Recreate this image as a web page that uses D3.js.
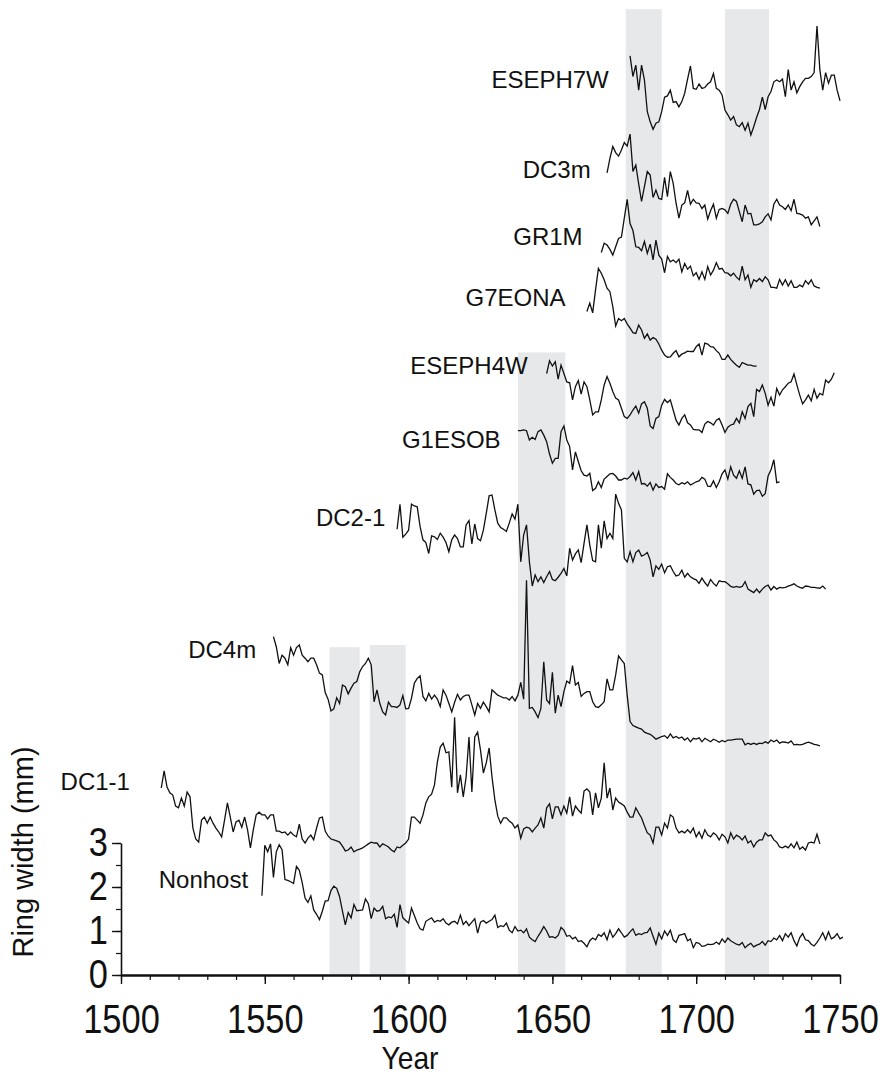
<!DOCTYPE html>
<html>
<head>
<meta charset="utf-8">
<script src="https://cdn.jsdelivr.net/npm/d3@7"></script>
<style>
  body { margin: 0; background: #fff; }
  text { font-family: "Liberation Sans", Arial, sans-serif; fill: #111; }
</style>
</head>
<body>
<div id="chart"></div>
<script>
// ring-width series, one value per year starting at firstYears[i] (mm)
const seriesNames = ["Nonhost", "DC1-1", "DC4m", "DC2-1", "G1ESOB", "ESEPH4W", "G7EONA", "GR1M", "DC3m", "ESEPH7W"];
const firstYears = [1549, 1514, 1553, 1596, 1638, 1648, 1662, 1667, 1669, 1677];

const nonhost = [1.8, 2.95, 2.8, 2.98, 2.22, 2.8, 2.96, 2.85, 2.17, 2.15, 2.12, 2.08, 2.47, 2.38, 2.1, 1.75, 1.65, 1.8, 1.48, 1.38,
  1.26, 1.45, 1.68, 1.69, 1.92, 2.02, 1.97, 1.78, 1.45, 1.14, 1.42, 1.3, 1.6, 1.46, 1.47, 1.48, 1.73, 1.62, 1.28, 1.52,
  1.45, 1.47, 1.56, 1.28, 1.32, 1.3, 1.38, 1.08, 1.6, 1.3, 1.24, 1.18, 1.52, 1.35, 1.18, 1.05, 1.02, 1.22, 1.26, 1.3,
  1.2, 1.24, 1.22, 1.28, 1.18, 1.14, 1.2, 1.22, 1.16, 1.36, 1.15, 1.22, 1.12, 1.2, 1.28, 0.95, 1.2, 1.24, 1.18, 1.22,
  1.26, 1.36, 1.08, 1.12, 1.1, 1.18, 1.02, 0.96, 1.1, 1.0, 1.02, 0.96, 1.05, 0.86, 0.8, 0.76, 0.88, 0.98, 1.1, 1.0,
  0.86, 0.87, 0.84, 0.9, 1.08, 1.02, 0.88, 0.9, 0.82, 0.86, 0.76, 0.78, 0.72, 0.64, 0.78, 0.84, 0.8, 0.92, 0.88, 0.96,
  0.8, 1.02, 0.86, 0.94, 1.05, 0.96, 0.86, 0.9, 0.98, 1.05, 0.9, 0.94, 0.92, 0.96, 0.97, 1.07, 0.88, 0.7, 0.95, 0.82,
  1.0, 0.9, 1.02, 0.8, 0.74, 0.9, 0.92, 0.94, 0.78, 0.82, 0.62, 0.74, 0.72, 0.65, 0.66, 0.7, 0.69, 0.7, 0.75, 0.7,
  0.82, 0.74, 0.84, 0.78, 0.74, 0.7, 0.68, 0.74, 0.62, 0.68, 0.72, 0.64, 0.68, 0.7, 0.76, 0.68, 0.78, 0.76, 0.84, 0.8,
  0.9, 0.78, 0.94, 0.86, 0.96, 0.78, 0.66, 0.85, 0.94, 0.8, 0.78, 0.7, 0.66, 0.74, 0.84, 0.96, 0.8, 0.98, 0.82, 0.86,
  0.94, 0.82, 0.86];

const dc1_1 = [1.75, 2.14, 1.77, 1.64, 1.59, 1.34, 1.3, 1.52, 1.34, 1.66, 1.55, 0.84, 0.59, 0.52, 1.02, 1.09, 0.95, 1.09, 0.95, 0.84,
  0.75, 0.64, 1.02, 1.41, 1.09, 0.75, 0.98, 1.02, 0.86, 1.09, 0.8, 0.39, 0.8, 1.14, 1.2, 1.14, 1.14, 1.05, 1.14, 1.14,
  0.77, 0.77, 0.73, 0.75, 0.68, 0.75, 0.68, 0.64, 0.93, 0.59, 0.5, 0.61, 0.68, 0.57, 0.84, 1.07, 1.09, 0.77, 0.66, 0.59,
  0.57, 0.55, 0.52, 0.43, 0.32, 0.34, 0.41, 0.3, 0.34, 0.36, 0.39, 0.43, 0.48, 0.52, 0.5, 0.5, 0.41, 0.48, 0.45, 0.41,
  0.34, 0.3, 0.41, 0.39, 0.45, 0.5, 0.59,
  1.09, 1.09, 1.02, 0.95, 1.14, 1.41, 1.55, 1.61, 1.82, 2.34, 2.68, 2.77, 2.55, 2.57, 1.77, 3.36, 1.64, 2.05, 1.55, 2.0,
  2.91, 1.66, 2.91, 3.02, 2.61, 2.09, 2.32, 2.66, 2.0, 1.48, 1.11, 0.95, 1.07, 1.07, 1.0, 0.95, 0.84, 0.91, 0.61, 0.82,
  0.86, 0.84, 0.75, 0.84, 0.91, 1.07, 0.84, 1.3, 1.39, 1.05, 1.32, 1.32, 1.14, 1.34, 1.18, 1.55, 1.11, 1.34, 1.25, 1.18,
  1.68, 1.73, 1.66, 1.14, 1.64, 1.3, 1.52, 2.32, 1.52, 1.75, 1.25, 1.52, 1.43,
  1.39, 1.34, 1.2, 1.09, 1.09, 1.3, 1.18, 1.07, 0.89, 0.73, 0.68, 0.5, 0.86, 0.86, 0.68, 0.95, 0.84, 1.14, 1.09, 0.84,
  0.73, 0.77, 0.73, 0.8, 0.73, 0.84, 0.64, 0.75, 0.61, 0.8, 0.68, 0.64, 0.73, 0.68, 0.57, 0.7, 0.64, 0.5, 0.73, 0.59,
  0.68, 0.64, 0.57, 0.66, 0.5, 0.55, 0.41, 0.52, 0.57, 0.57, 0.73, 0.66, 0.68, 0.57, 0.52, 0.41, 0.39, 0.43, 0.39, 0.48,
  0.39, 0.52, 0.36, 0.41, 0.34, 0.5, 0.52, 0.5, 0.7, 0.48];

const dc4m = [2.69, 2.46, 2.08, 2.27, 2.2, 2.05, 2.44, 2.27, 2.44, 2.5, 2.27, 2.2, 2.12, 2.2, 2.2, 2.05, 1.86, 1.82, 1.42, 1.27,
  1.0, 1.05, 1.3, 1.17, 1.59, 1.55, 1.39, 1.52, 1.63, 1.67, 1.89, 2.01, 2.08, 2.2, 2.05, 1.21, 1.48, 1.17, 0.98, 0.91,
  1.2, 1.1, 1.1, 1.08, 1.14, 1.35, 1.05, 1.06, 1.29, 1.63, 1.74, 1.8, 1.33, 1.23, 1.4, 1.27, 1.36, 1.27, 1.1, 1.48,
  1.36, 1.17, 0.98, 1.2, 1.38, 1.25, 1.33, 1.36, 1.36, 1.14, 0.91, 1.17, 1.06, 1.2, 1.1, 0.98, 1.48, 1.42, 1.36, 1.33,
  1.3, 1.3, 1.25, 1.33, 1.23, 1.36, 1.65, 1.27, 3.97, 1.06, 1.08, 0.98, 0.85, 1.06, 2.12, 1.25, 1.17, 1.88, 0.95, 1.36,
  1.1, 1.44, 1.68, 1.63, 2.03, 1.59, 1.65, 1.33, 1.4, 1.44, 1.44, 1.21, 1.1, 1.08, 1.14, 1.21, 1.73, 1.48, 1.48, 1.82,
  2.25, 2.16, 2.08, 1.36, 0.76, 0.67, 0.64, 0.61, 0.59, 0.52, 0.49, 0.47, 0.42, 0.36, 0.39, 0.42, 0.44, 0.38, 0.48, 0.39,
  0.42, 0.38, 0.41, 0.34, 0.39, 0.3, 0.38, 0.36, 0.39, 0.3, 0.38, 0.34, 0.3, 0.36, 0.33, 0.29, 0.33, 0.3, 0.34, 0.34,
  0.35, 0.36, 0.36, 0.36, 0.23, 0.27, 0.24, 0.27, 0.24, 0.27, 0.26, 0.3, 0.27, 0.34, 0.3, 0.34, 0.27, 0.3, 0.29, 0.27,
  0.32, 0.23, 0.24, 0.23, 0.24, 0.27, 0.29, 0.27, 0.24, 0.23, 0.21];

const dc2_1 = [2.13, 2.7, 1.95, 2.02, 2.11, 2.7, 2.66, 2.64, 2.19, 1.89, 1.83, 1.58, 1.98, 1.96, 1.9, 2.04, 1.95, 1.83, 1.62, 1.89,
  2.0, 1.92, 1.73, 1.73, 2.23, 2.33, 1.8, 2.25, 1.92, 1.87, 2.11, 2.49, 2.89, 2.91, 2.57, 2.27, 2.17, 2.13, 2.08, 2.27,
  2.48, 2.36, 2.7, 1.39, 2.0, 2.23, 1.39, 0.84, 1.09, 0.94, 1.05, 0.92, 1.05, 1.17, 0.99, 0.96, 1.04, 1.13, 1.24, 1.07,
  1.7, 1.43, 1.57, 1.66, 1.37, 1.81, 2.23, 1.77, 1.42, 1.39, 2.23, 1.7, 2.32, 1.92, 2.04, 1.92, 2.93, 2.72, 2.57, 1.47,
  1.39, 1.62, 1.39, 1.6, 1.66, 1.52, 1.55, 1.6, 1.43, 1.05, 1.3, 1.22, 1.34, 1.14, 1.28, 1.3, 1.17, 1.07, 1.09, 1.2,
  1.04, 1.13, 1.05, 1.01, 0.98, 0.9, 1.02, 0.92, 0.84, 0.99, 0.9, 0.84, 0.96, 0.94, 0.94, 0.89, 0.83, 0.81, 0.83, 0.81,
  0.83, 0.94, 0.77, 0.73, 0.69, 0.77, 0.69, 0.77, 0.83, 0.86, 0.75, 0.83, 0.77, 0.81, 0.8, 0.81, 0.84, 0.86, 0.89, 0.84,
  0.81, 0.79, 0.84, 0.83, 0.81, 0.81, 0.8, 0.79, 0.84, 0.77];

const g1esob = [1.87, 1.87, 1.89, 1.87, 1.66, 1.72, 1.67, 1.85, 1.89, 1.77, 1.62, 1.34, 1.13, 1.24, 1.24, 1.85, 1.98, 1.66, 1.51, 0.98,
  1.39, 1.17, 0.96, 0.86, 0.84, 0.9, 0.51, 0.56, 0.71, 0.58, 0.77, 0.83, 0.89, 0.9, 0.84, 0.75, 0.75, 0.79, 0.77, 0.83,
  0.92, 0.75, 0.94, 0.66, 0.67, 0.61, 0.69, 0.52, 0.66, 0.58, 0.6, 0.54, 0.89, 0.81, 0.75, 0.67, 0.64, 0.69, 0.66, 0.71,
  0.64, 0.67, 0.71, 0.73, 0.81, 0.77, 0.61, 0.6, 0.73, 0.58, 0.71, 0.89, 0.98, 0.77, 1.05, 0.86, 0.79, 0.96, 0.79, 1.05,
  0.66, 0.64, 0.43, 0.51, 0.52, 0.38, 0.44, 0.84, 0.98, 1.21, 0.69, 0.71];

const eseph4w = [1.67, 1.96, 1.84, 1.94, 1.54, 1.86, 1.67, 1.48, 1.46, 1.07, 1.37, 1.51, 1.2, 1.48, 1.37, 1.07, 0.73, 0.8, 0.8, 1.07,
  1.41, 1.6, 1.45, 1.26, 1.11, 1.07, 0.88, 0.69, 0.65, 0.73, 0.84, 0.93, 0.77, 0.98, 1.03, 0.88, 0.48, 0.42, 0.65, 0.69,
  0.95, 1.08, 1.01, 1.07, 0.84, 0.61, 0.5, 0.65, 0.73, 0.55, 0.5, 0.4, 0.39, 0.39, 0.33, 0.52, 0.58, 0.55, 0.5, 0.61,
  0.65, 0.5, 0.33, 0.45, 0.5, 0.52, 0.65, 0.55, 0.8, 0.65, 0.92, 0.99, 0.69, 1.31, 1.26, 1.41, 1.22, 0.95, 1.13, 0.93,
  1.33, 1.18, 1.3, 1.37, 1.45, 1.48, 1.66, 1.41, 1.18, 0.98, 1.07, 1.18, 1.05, 1.31, 1.11, 1.22, 1.18, 1.52, 1.46, 1.54,
  1.69];

const g7eona = [1.58, 1.77, 1.55, 2.07, 2.56, 2.45, 2.3, 2.11, 2.03, 1.69, 1.25, 1.42, 1.37, 1.42, 1.3, 1.2, 1.1, 1.08, 1.27, 1.16,
  0.97, 1.07, 0.93, 0.99, 0.95, 0.84, 0.7, 0.59, 0.54, 0.55, 0.63, 0.69, 0.55, 0.61, 0.64, 0.68, 0.67, 0.67, 0.78, 0.84,
  0.59, 0.86, 0.84, 0.78, 0.77, 0.69, 0.63, 0.49, 0.49, 0.59, 0.49, 0.42, 0.36, 0.31, 0.42, 0.39, 0.36, 0.36, 0.34, 0.34];

const gr1m = [2.42, 2.63, 2.59, 2.49, 2.36, 2.55, 2.74, 2.77, 3.2, 3.63, 3.08, 2.92, 2.55, 2.54, 2.46, 2.67, 2.4, 2.61, 2.25, 2.7,
  2.36, 2.27, 1.96, 2.33, 2.21, 2.25, 2.19, 2.27, 1.98, 2.17, 2.04, 2.11, 1.89, 1.96, 1.81, 1.98, 1.81, 2.1, 1.91, 2.02,
  2.19, 2.04, 2.06, 1.96, 1.95, 1.89, 1.95, 1.86, 1.8, 2.11, 1.8, 1.91, 1.63, 1.8, 1.76, 1.83, 1.76, 1.87, 1.8, 1.63,
  1.63, 1.61, 1.81, 1.68, 1.8, 1.66, 1.78, 1.63, 1.63, 1.68, 1.64, 1.78, 1.7, 1.8, 1.66, 1.63, 1.61];

const dc3m = [2.23, 2.56, 2.83, 2.69, 2.61, 2.75, 2.92, 2.84, 3.11, 2.26, 2.41, 1.98, 1.58, 1.92, 2.26, 2.18, 1.67, 1.84, 1.65, 1.63,
  2.13, 1.69, 2.26, 1.99, 1.54, 1.2, 1.5, 1.55, 1.83, 1.52, 1.63, 1.55, 1.54, 1.42, 1.5, 1.18, 1.37, 1.52, 1.2, 1.4,
  1.42, 1.39, 1.31, 1.52, 1.63, 1.58, 1.35, 1.12, 1.5, 1.3, 1.31, 1.05, 1.05, 1.07, 1.12, 1.23, 1.3, 1.16, 1.52, 1.63,
  1.5, 1.46, 1.4, 1.5, 1.37, 1.63, 1.31, 1.3, 1.27, 1.2, 1.23, 1.05, 1.14, 1.23, 1.01];

const eseph7w = [1.89, 1.42, 1.68, 1.11, 1.68, 1.34, 0.62, 0.39, 0.22, 0.36, 0.39, 0.62, 0.95, 0.98, 1.11, 0.83, 0.85, 0.73, 0.85, 1.04,
  1.36, 1.66, 1.15, 1.13, 1.25, 1.15, 1.17, 1.25, 1.3, 1.49, 1.15, 1.11, 1.0, 0.66, 0.55, 0.43, 0.51, 0.32, 0.28, 0.37,
  0.2, 0.36, 0.09, 0.28, 0.49, 0.67, 0.95, 0.67, 0.96, 1.08, 1.3, 1.34, 1.3, 1.36, 0.96, 1.58, 1.11, 1.3, 1.05, 1.19,
  1.3, 1.38, 1.38, 1.42, 1.51, 2.57, 1.57, 1.11, 1.51, 1.27, 1.45, 1.45, 1.11, 0.87];

const seriesValues = [nonhost, dc1_1, dc4m, dc2_1, g1esob, eseph4w, g7eona, gr1m, dc3m, eseph7w];

// shaded periods (years)
const bandStarts = [1572.5, 1586.5, 1638, 1675.5, 1710];
const bandEnds = [1583, 1599, 1654.5, 1688, 1725.3];

const xTicks = [1500, 1550, 1600, 1650, 1700, 1750];
const yTicks = [0, 1, 2, 3];

// layout: vertical stacking offsets (mm), band tops (mm), label anchors (year, mm)
const offsets = [0, 2.5, 5, 8, 10.5, 12, 13.5, 14, 16, 19];
const bandTops = [7.45, 7.5, 14.15, 21.95, 21.95];
const labelYears = [1544.2, 1503.1, 1547, 1591.9, 1632, 1641.4, 1654.6, 1660.5, 1663.3, 1669.6];
const labelLevels = [1.98, 4.2, 7.2, 10.2, 11.98, 13.66, 15.2, 16.59, 18.11, 20.16];

const width = 883;
const height = 1080;

const x = d3.scaleLinear().domain([1500, 1750]).range([121, 840]);
const y = d3.scaleLinear().domain([0, 3]).range([975, 843]);

const svg = d3.select("#chart")
  .append("svg")
  .attr("width", width)
  .attr("height", height);

// grey bands
svg.append("g")
  .selectAll("rect")
  .data(bandStarts)
  .enter()
  .append("rect")
  .attr("x", (d) => x(d))
  .attr("width", (d, i) => x(bandEnds[i]) - x(d))
  .attr("y", (d, i) => y(bandTops[i]))
  .attr("height", (d, i) => y(0) - y(bandTops[i]))
  .attr("fill", "#e7e8ea");

const line = d3.line()
  .x((d) => x(d.year))
  .y((d) => y(d.value));

const series = seriesValues.map((vals, i) =>
  vals.map((v, j) => ({ year: firstYears[i] + j, value: v + offsets[i] }))
);

svg.append("g")
  .selectAll("path")
  .data(series)
  .enter()
  .append("path")
  .attr("d", line)
  .attr("fill", "none")
  .attr("stroke", "#111")
  .attr("stroke-width", 1.3)
  .attr("stroke-linejoin", "miter");

svg.append("g")
  .selectAll("text")
  .data(seriesNames)
  .enter()
  .append("text")
  .attr("x", (d, i) => x(labelYears[i]))
  .attr("y", (d, i) => y(labelLevels[i]))
  .attr("text-anchor", "end")
  .attr("font-size", 24)
  .text((d) => d);

// x axis: minor ticks every 10 years, major every 50
const xMinor = svg.append("g")
  .attr("transform", `translate(0,${y(0)})`)
  .call(d3.axisBottom(x).tickValues(d3.range(1500, 1751, 10)).tickSize(5).tickFormat(""));
xMinor.select(".domain").remove();
xMinor.selectAll("line").attr("stroke", "#111").attr("stroke-width", 1.2);

const xAxis = svg.append("g")
  .attr("transform", `translate(0,${y(0)})`)
  .call(d3.axisBottom(x).tickValues(xTicks).tickSize(9).tickSizeOuter(0).tickFormat(d3.format("d")));
xAxis.select(".domain").attr("stroke", "#111").attr("stroke-width", 2.4);
xAxis.selectAll(".tick line").attr("stroke", "#111").attr("stroke-width", 1.4);
xAxis.selectAll("text")
  .attr("font-size", 40)
  .attr("font-family", "'Liberation Sans', Arial, sans-serif")
  .attr("fill", "#111")
  .attr("y", 30)
  .attr("transform", "scale(0.86,1)");

// y axis
const yMinor = svg.append("g")
  .attr("transform", `translate(${x(1500)},0)`)
  .call(d3.axisLeft(y).tickValues(d3.range(0, 3.01, 0.5)).tickSize(5).tickFormat(""));
yMinor.select(".domain").remove();
yMinor.selectAll("line").attr("stroke", "#111").attr("stroke-width", 1.2);

const yAxis = svg.append("g")
  .attr("transform", `translate(${x(1500)},0)`)
  .call(d3.axisLeft(y).tickValues(yTicks).tickSize(9).tickSizeOuter(0).tickFormat(d3.format("d")));
yAxis.select(".domain").attr("stroke", "#111").attr("stroke-width", 1.6);
yAxis.selectAll(".tick line").attr("stroke", "#111").attr("stroke-width", 1.4);
yAxis.selectAll("text")
  .attr("font-size", 40)
  .attr("font-family", "'Liberation Sans', Arial, sans-serif")
  .attr("fill", "#111")
  .attr("x", -13 / 0.86)
  .attr("transform", "scale(0.86,1)");

// axis titles
svg.append("text")
  .attr("transform", "translate(410,1069) scale(0.88,1)")
  .attr("text-anchor", "middle")
  .attr("font-size", 32)
  .text("Year");

svg.append("text")
  .attr("transform", "translate(33,852) rotate(-90)")
  .attr("text-anchor", "middle")
  .attr("font-size", 29)
  .text("Ring width (mm)");
</script>
</body>
</html>
